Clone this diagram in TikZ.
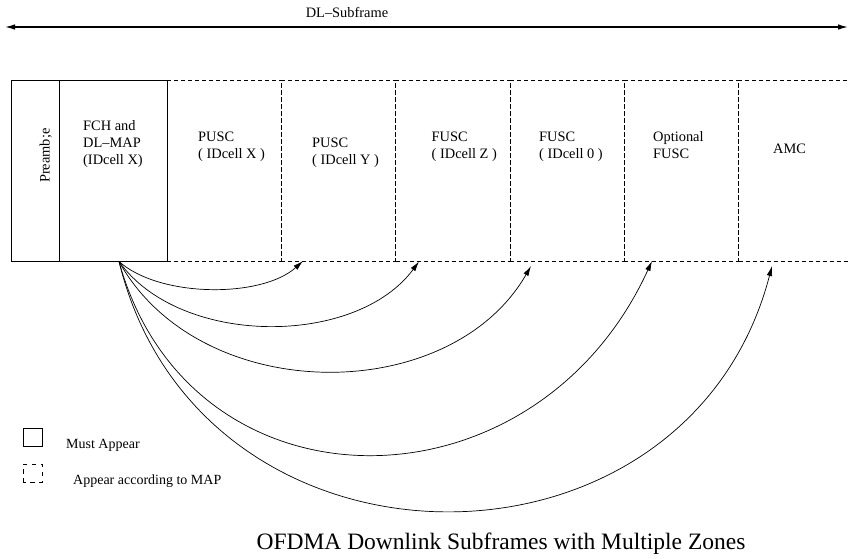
\documentclass[tikz,border=0pt]{standalone}
\usepackage{fontspec}
\setmainfont{Liberation Serif}
\usetikzlibrary{arrows.meta}
\begin{document}
\begin{tikzpicture}[x=1pt,y=-1pt,
  solidbox/.style={draw, line width=0.9pt, minimum height=181pt, inner sep=0pt, outer sep=0pt},
  dashbox/.style={draw, line width=0.8pt, dash pattern=on 4pt off 3pt, minimum height=181pt, minimum width=114.3pt, inner sep=0pt, outer sep=0pt},
  lbl/.style={font=\fontsize{14.4}{17}\selectfont, inner sep=0pt, anchor=base west},
  link/.style={line width=0.7pt, -{Latex[length=10pt,width=5.5pt]}},
  legtxt/.style={font=\fontsize{14}{16}\selectfont, inner sep=0pt, anchor=base west}]
\useasboundingbox (0,0) rectangle (849,558);
% title arrow
\node[font=\fontsize{14.4}{17}\selectfont, inner sep=0pt, anchor=base] (title) at (347,17) {DL--Subframe};
\coordinate (tl) at (5,27);
\coordinate (tr) at (848,27);
\draw[line width=1.2pt, {Latex[length=10pt,width=5.5pt]}-{Latex[length=10pt,width=5.5pt]}] (tl) -- (tr);
% boxes
\node[solidbox, minimum width=48pt] (pre) at (35,170.5) {};
\node[solidbox, minimum width=108pt] (fch) at (113,170.5) {};
\node[dashbox] (b1) at (224.15,170.5) {};
\node[dashbox] (b2) at (338.45,170.5) {};
\node[dashbox] (b3) at (452.75,170.5) {};
\node[dashbox] (b4) at (567.05,170.5) {};
\node[dashbox] (b5) at (681.35,170.5) {};
\node[dashbox] (b6) at (795.65,170.5) {};
% labels
\node[lbl, rotate=90] (tpre) at (49.5,183) {Preamb;e};
\node[lbl] (tf1) at (83,130) {FCH and};
\node[lbl] (tf2) at (83,147) {DL--MAP};
\node[lbl] (tf3) at (83,164) {(IDcell X)};
\node[lbl] (t11) at (198,141) {PUSC};
\node[lbl] (t12) at (198,158) {( IDcell X )};
\node[lbl] (t21) at (312,147) {PUSC};
\node[lbl] (t22) at (312,164.5) {( IDcell Y )};
\node[lbl] (t31) at (431.5,141) {FUSC};
\node[lbl] (t32) at (431.5,158) {( IDcell Z )};
\node[lbl] (t41) at (539,141) {FUSC};
\node[lbl] (t42) at (539,158) {( IDcell 0 )};
\node[lbl] (t51) at (653,141) {Optional};
\node[lbl] (t52) at (653,158.5) {FUSC};
\node[lbl] (t61) at (773,153) {AMC};
% connectors
\coordinate (src) at (119,261.5);
\coordinate (e1) at (303,261);
\coordinate (e2) at (419,261.5);
\coordinate (e3) at (531,266);
\coordinate (e4) at (652,261);
\coordinate (e5) at (772,266);
\draw[link] (src) .. controls (160,298) and (262,298) .. (e1);
\draw[link] (src) .. controls (180,347) and (356,347) .. (e2);
\draw[link] (src) .. controls (200,407) and (450,407) .. (e3);
\draw[link] (src) .. controls (190,519) and (534,519) .. (e4);
\draw[link] (src) .. controls (200,593) and (687,593) .. (e5);
% legend
\node[draw, line width=0.8pt, minimum width=19pt, minimum height=18pt, inner sep=0pt] (lg1) at (32.5,437) {};
\node[draw, line width=0.7pt, dash pattern=on 4.5pt off 4.5pt, dash phase=2pt, minimum width=19pt, minimum height=18pt, inner sep=0pt] (lg2) at (32.5,473) {};
\node[legtxt] (lt1) at (66,448) {Must Appear};
\node[legtxt] (lt2) at (73,484) {Appear according to MAP};
% caption
\node[font=\fontsize{23.5}{28}\selectfont, inner sep=0pt, anchor=base] (cap) at (501,549) {OFDMA Downlink Subframes with Multiple Zones};
\end{tikzpicture}
\end{document}
